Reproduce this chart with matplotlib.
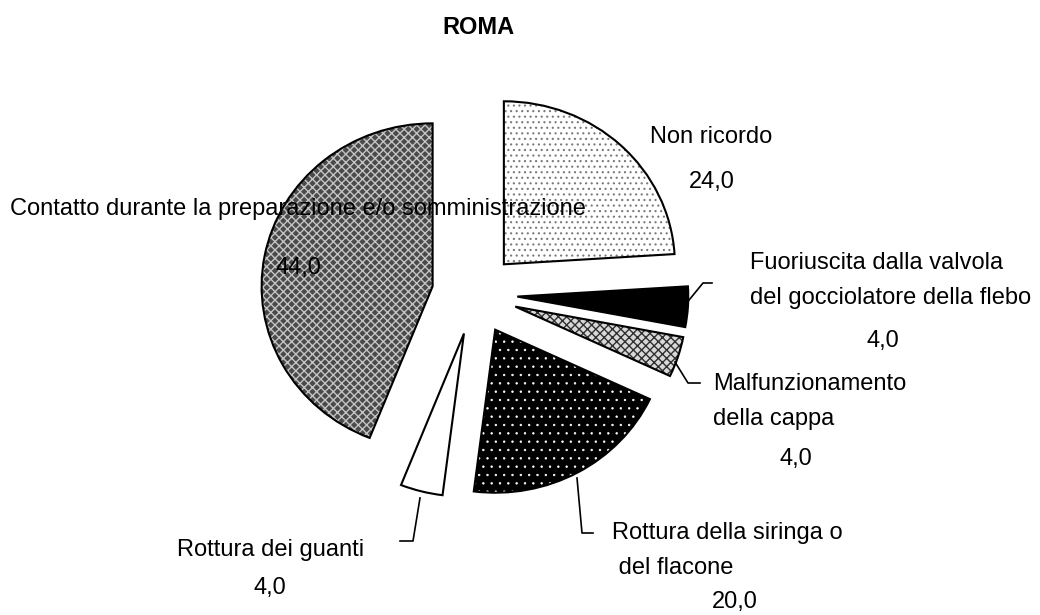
import matplotlib.pyplot as plt

plt.rcParams['font.family'] = ['Liberation Sans', 'DejaVu Sans']
plt.rcParams['hatch.linewidth'] = 1.0

# Data
categories = ['Non ricordo',
              'Fuoriuscita dalla valvola\ndel gocciolatore della flebo',
              'Malfunzionamento\ndella cappa',
              'Rottura della siringa o\n del flacone',
              'Rottura dei guanti',
              'Contatto durante la preparazione e/o somministrazione']
values = [24.0, 4.0, 4.0, 20.0, 4.0, 44.0]

# fill styles per slice (face, hatch colour, hatch, hatch line width)
face_colors = ['white', 'black', '#d8d8d8', 'black', 'white', '#4a4a4a']
hatch_colors = ['#7a7a7a', 'black', '#303030', 'white', 'white', '#c4c4c4']
hatches = ['...', None, 'xxxx', '..', None, 'xxxx']
hatch_widths = [0.8, 1.0, 1.0, 0.5, 1.0, 1.0]
explode = [0.25] * len(values)

# pixel layout of the reference (figure 1040x615)
cx, cy = 474.6, 294.0     # pie centre
sx, sy = 171.0, 163.0     # pixels per radius unit


def px(x, y):
    return (x - cx) / sx, (cy - y) / sy


fig = plt.figure(figsize=(10.4, 6.15), dpi=100)
ax = fig.add_axes([0, 0, 1, 1])

# hatched fills
wedges, _ = ax.pie(values, explode=explode, startangle=90, counterclock=False,
                   wedgeprops=dict(linewidth=0))
for w, fc, hc, h, hw in zip(wedges, face_colors, hatch_colors, hatches, hatch_widths):
    w.set_facecolor(fc)
    w.set_edgecolor(hc)
    w.set_linewidth(0)
    if h:
        w.set_hatch(h)
        if hasattr(w, 'set_hatch_linewidth'):
            w.set_hatch_linewidth(hw)

# black outlines on top
ax.pie(values, explode=explode, startangle=90, counterclock=False,
       wedgeprops=dict(fill=False, edgecolor='black', linewidth=1.5))

ax.set_aspect('auto')
x0, _ = px(0, 0)
x1, _ = px(1040, 0)
_, y0 = px(0, 615)
_, y1 = px(0, 0)
ax.set_xlim(x0, x1)
ax.set_ylim(y0, y1)
ax.axis('off')

# label placement: (left x, first line y, value centre x, value y)
label_pos = [(650, 137, 712, 182),
             (750, 263, 883, 341),
             (713, 384, 796, 459),
             (612, 533, 735, 602),
             (177, 550, 270, 588),
             (10, 209, 298, 268)]
line_gap = 34.5

for cat, val, (lx, ly, vx, vy) in zip(categories, values, label_pos):
    for i, line in enumerate(cat.split('\n')):
        ax.text(*px(lx, ly + i * line_gap), line, fontsize=17,
                ha='left', va='center')
    ax.text(*px(vx, vy), f'{val:.1f}'.replace('.', ','), fontsize=17,
            ha='center', va='center')

# leader lines
leaders = [[(685, 305), (703, 283), (712, 283)],
           [(675, 362), (688, 383), (700, 383)],
           [(577, 478), (582, 533), (593, 533)],
           [(420, 498), (413, 541), (400, 541)]]
for pts in leaders:
    xs, ys = zip(*[px(x, y) for x, y in pts])
    ax.plot(xs, ys, color='black', linewidth=1.2)

fig.text(478 / 1040, 1 - 28 / 615, 'ROMA', fontsize=17, fontweight='bold',
         ha='center', va='center')

fig.savefig('out.png', dpi=100)
